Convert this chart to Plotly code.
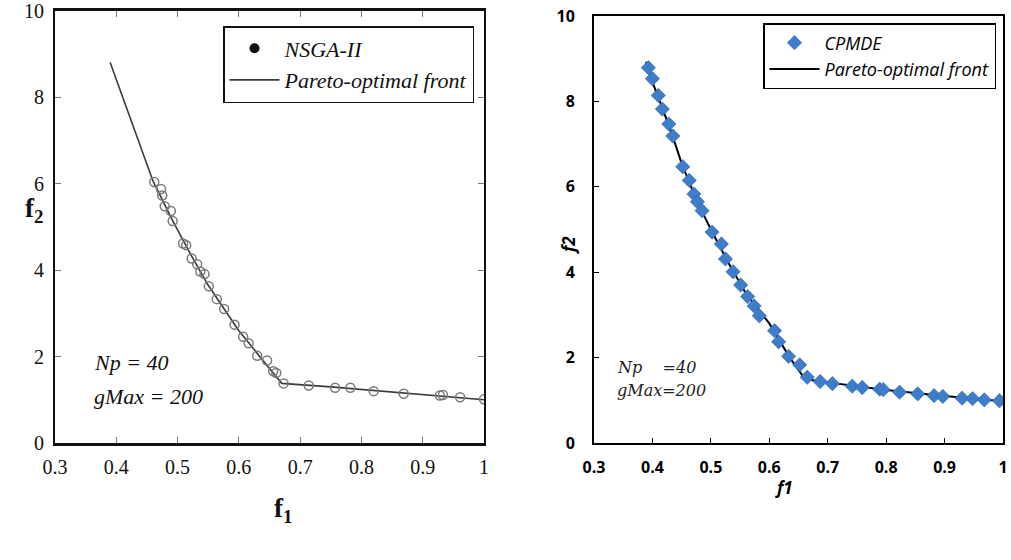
import plotly.graph_objects as go

# NSGA-II results (left panel)
nsga_f1 = [0.462, 0.473, 0.475, 0.479, 0.489, 0.492, 0.509, 0.514, 0.523, 0.532,
           0.537, 0.544, 0.551, 0.564, 0.576, 0.593, 0.607, 0.616, 0.630, 0.646,
           0.656, 0.661, 0.673, 0.714, 0.757, 0.782, 0.820, 0.869, 0.928, 0.933,
           0.961, 1.000]
nsga_f2 = [6.04, 5.88, 5.73, 5.48, 5.37, 5.14, 4.62, 4.58, 4.27, 4.14,
           3.97, 3.91, 3.63, 3.33, 3.10, 2.74, 2.46, 2.31, 2.02, 1.91,
           1.66, 1.62, 1.38, 1.33, 1.28, 1.28, 1.20, 1.14, 1.10, 1.11,
           1.06, 1.01]
front_left_f1 = [0.390, 0.460, 0.490, 0.520, 0.550, 0.600, 0.640, 0.670, 0.750, 0.850, 0.930, 1.000]
front_left_f2 = [8.81, 6.06, 5.20, 4.40, 3.65, 2.60, 1.90, 1.38, 1.30, 1.18, 1.10, 1.00]

# CPMDE results (right panel)
cpmde_f1 = [0.393, 0.400, 0.410, 0.417, 0.428, 0.435, 0.452, 0.463, 0.471, 0.477,
            0.485, 0.502, 0.518, 0.525, 0.538, 0.551, 0.563, 0.574, 0.583, 0.609,
            0.616, 0.633, 0.652, 0.665, 0.687, 0.708, 0.742, 0.759, 0.789, 0.795,
            0.823, 0.854, 0.882, 0.897, 0.930, 0.948, 0.968, 0.994]
cpmde_f2 = [8.79, 8.53, 8.14, 7.82, 7.47, 7.19, 6.47, 6.15, 5.83, 5.65,
            5.44, 4.94, 4.66, 4.31, 4.01, 3.70, 3.43, 3.21, 2.98, 2.63,
            2.37, 2.03, 1.83, 1.54, 1.44, 1.39, 1.33, 1.30, 1.26, 1.25,
            1.19, 1.15, 1.11, 1.09, 1.05, 1.04, 1.01, 0.99]
front_right_f1 = [0.389, 0.400, 0.410, 0.433, 0.450, 0.475, 0.500, 0.530, 0.560, 0.600,
                  0.635, 0.661, 0.700, 0.800, 0.900, 1.000]
front_right_f2 = [8.93, 8.45, 8.10, 7.25, 6.55, 5.70, 5.00, 4.22, 3.50, 2.80,
                  2.00, 1.50, 1.42, 1.24, 1.10, 0.98]

x_ticks = [0.3, 0.4, 0.5, 0.6, 0.7, 0.8, 0.9, 1]
x_tick_labels = ['0.3', '0.4', '0.5', '0.6', '0.7', '0.8', '0.9', '1']
y_ticks = [0, 2, 4, 6, 8, 10]

W, H = 1011, 560


def px(x):
    return x / W


def py(y):
    return 1 - y / H


serif = 'Liberation Serif'
sans = 'Open Sans'

fig = go.Figure()

# left panel (legend-only black dot for the NSGA-II entry)
fig.add_trace(go.Scatter(x=[None], y=[None], mode='markers', name='NSGA-II',
                         legend='legend', legendrank=1,
                         marker=dict(symbol='circle', size=10, color='#111')))
fig.add_trace(go.Scatter(x=front_left_f1, y=front_left_f2, mode='lines',
                         line=dict(color='#3a3a3a', width=1.6),
                         name='Pareto-optimal front', legend='legend', legendrank=2))
fig.add_trace(go.Scatter(x=nsga_f1, y=nsga_f2, mode='markers', showlegend=False,
                         marker=dict(symbol='circle-open', size=9, color='#7a7a7a',
                                     line=dict(width=1.5))))

# right panel
fig.add_trace(go.Scatter(x=front_right_f1, y=front_right_f2, mode='lines',
                         name='Pareto-optimal front', xaxis='x2', yaxis='y2',
                         legend='legend2', legendrank=2,
                         line=dict(color='black', width=2)))
fig.add_trace(go.Scatter(x=cpmde_f1, y=cpmde_f2, mode='markers', name='CPMDE',
                         xaxis='x2', yaxis='y2', legend='legend2', legendrank=1,
                         marker=dict(symbol='diamond', size=11, color='#3d7dca',
                                     line=dict(color='#2f63a6', width=0.6))))

left_axis = dict(showgrid=False, zeroline=False, showline=True, linecolor='#111',
                 mirror='ticks', ticks='inside', ticklen=6, tickcolor='#777',
                 automargin=False, ticklabeloverflow='allow',
                 tickfont=dict(family=serif, size=20, color='#111'))
right_axis = dict(showgrid=False, zeroline=False, showline=True, linecolor='black',
                  mirror=True, ticks='inside', ticklen=5, tickcolor='black',
                  automargin=False, ticklabeloverflow='allow',
                  tickfont=dict(family=sans, size=16, color='black', weight='bold'))


def note(x, y, text, font, **kw):
    return dict(x=px(x), y=py(y), xref='paper', yref='paper', showarrow=False,
                yanchor='middle', text=text, font=font, **kw)


fig.update_layout(
    width=W, height=H,
    margin=dict(l=0, r=0, t=0, b=0, pad=0, autoexpand=False),
    paper_bgcolor='white', plot_bgcolor='white',
    xaxis=dict(left_axis, domain=[px(55), px(484)], range=[0.3, 1.0],
               tickvals=x_ticks, ticktext=x_tick_labels, linewidth=2.5,
               ticklabelstandoff=4),
    yaxis=dict(left_axis, domain=[py(443), py(11)], range=[0, 10],
               tickvals=y_ticks, linewidth=2, ticklabelstandoff=5),
    xaxis2=dict(right_axis, domain=[px(594), px(1003)], range=[0.3, 1.0],
                tickvals=x_ticks, ticktext=x_tick_labels, linewidth=2,
                anchor='y2', ticklabelstandoff=9),
    yaxis2=dict(right_axis, domain=[py(443), py(16)], range=[0, 10],
                tickvals=y_ticks, linewidth=2, anchor='x2', ticklabelstandoff=14),
    legend=dict(x=px(474), y=py(26), xanchor='right', yanchor='top',
                bgcolor='white', bordercolor='#111', borderwidth=1.5,
                font=dict(family=serif, size=22, color='#111', style='italic'),
                itemwidth=50, tracegroupgap=4),
    legend2=dict(x=px(996), y=py(23), xanchor='right', yanchor='top',
                 bgcolor='white', bordercolor='black', borderwidth=1.5,
                 font=dict(family=sans, size=18, color='black', style='italic'),
                 itemwidth=50, tracegroupgap=0),
    showlegend=True,
    annotations=[
        note(23, 210, 'f<sub>2</sub>', dict(family=serif, size=27, color='#111', weight='bold')),
        note(272, 510, 'f<sub>1</sub>', dict(family=serif, size=27, color='#111', weight='bold')),
        note(92, 362, 'Np = 40', dict(family=serif, size=22, color='#111', style='italic'),
             xanchor='left'),
        note(92, 396, 'gMax = 200', dict(family=serif, size=22, color='#111', style='italic'),
             xanchor='left'),
        note(795, 487, 'f1', dict(family=sans, size=17, color='black', weight='bold', style='italic')),
        note(568, 245, 'f2', dict(family=sans, size=17, color='black', weight='bold', style='italic'),
             textangle=-90),
        note(615, 367, 'Np\u00a0\u00a0\u00a0\u00a0=40',
             dict(family='DejaVu Serif', size=16, color='#222', style='italic'), xanchor='left'),
        note(615, 390, 'gMax=200',
             dict(family='DejaVu Serif', size=16, color='#222', style='italic'), xanchor='left'),
    ],
)

# drop the default 8px page margin so the figure fills the window exactly
fig.write_html("out.html", config={'displayModeBar': False},
               post_script="document.body.style.margin = '0px';")
